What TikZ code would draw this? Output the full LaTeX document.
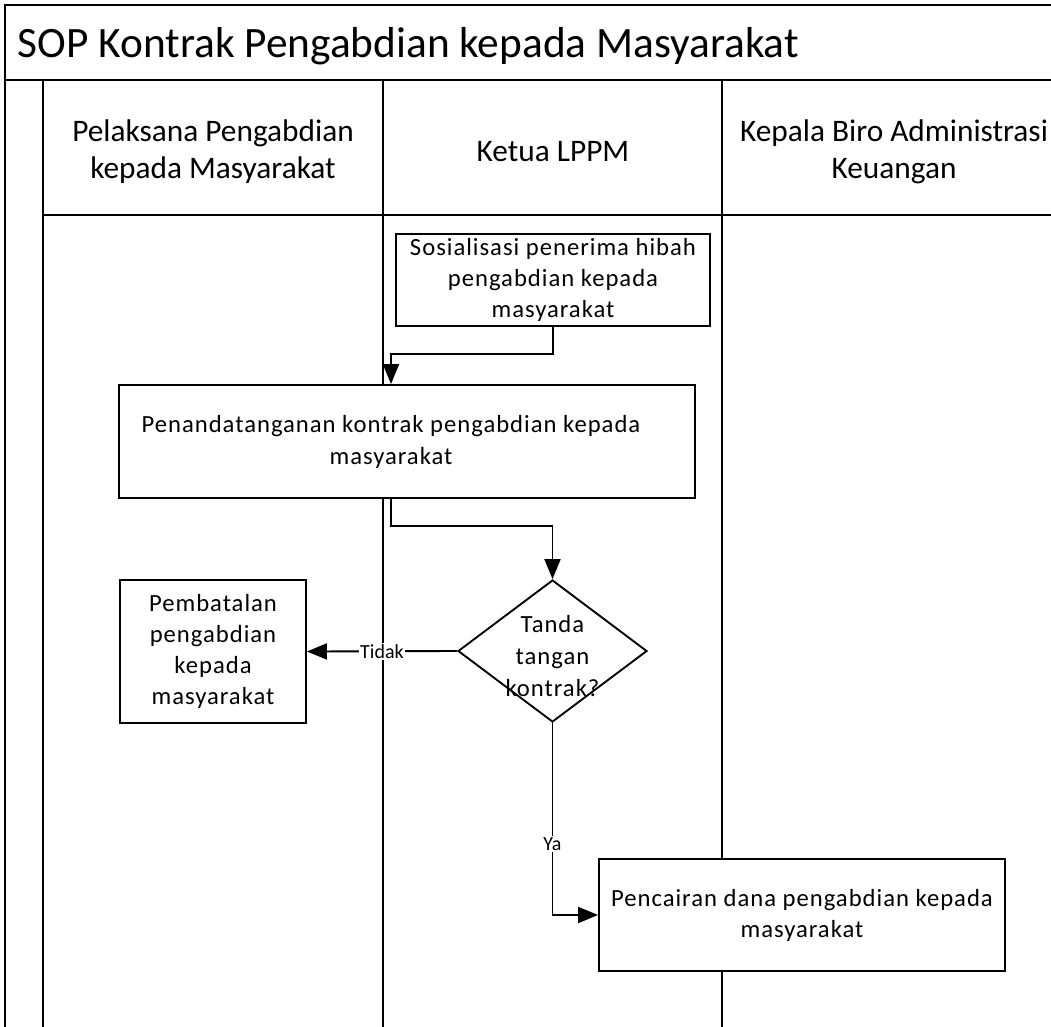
\documentclass[tikz,border=0pt]{standalone}
\usepackage{fontspec}
\setmainfont{Carlito}
\newfontfamily\boxfont[LetterSpace=4]{Carlito}
\usetikzlibrary{arrows.meta,shapes.geometric}

\begin{document}
\begin{tikzpicture}[%
        x = 0.75pt,
        y = -0.75pt,
        line width = 1.4pt,
        box/.style = {%
            draw,
            fill = white,
            rectangle,
            align = center,
            font = \boxfont\fontsize{18.5}{23.25}\selectfont,
        },
        inside/.style = {%
            align = center,
            font = \boxfont\fontsize{18.5}{24}\selectfont,
        },
        flow/.style = {%
            -{Triangle[length=15pt, width=12pt]},
        },
        lbl/.style = {%
            fill = white,
            inner sep = 1pt,
            font = \fontsize{15}{17}\selectfont,
        },
        lane/.style = {%
            align = center,
            font = \fontsize{23.5}{27.75}\selectfont,
        },
    ]

        % Page frame, title row and swim lanes.
        \clip (0,0) rectangle (1051,1026);
        \draw (5,5) rectangle (1060,80);
        \draw (5,80) -- (5,1030);
        \draw (43,80) -- (43,1030);
        \draw (383,80) -- (383,1030);
        \draw (722,80) -- (722,1030);
        \draw (43,215) -- (1060,215);
        \node[anchor = base west, inner sep = 0pt, font = \fontsize{32.5}{37}\selectfont] (title) at (17,57) {SOP Kontrak Pengabdian kepada Masyarakat};

        % Lane headings.
        \node[lane] (pelaksana) at (213,152) {Pelaksana Pengabdian\\kepada Masyarakat};
        \node[lane] (ketua) at (553,152) {Ketua LPPM};
        \node[lane] (biro) at (894,152) {Kepala Biro Administrasi\\Keuangan};

        % Steps of the procedure.
        \node[box, minimum width = 235.5pt, minimum height = 69pt] (sosialisasi) at (553,280) {Sosialisasi penerima hibah\\pengabdian kepada\\masyarakat};
        \node[box, minimum width = 432pt, minimum height = 84.75pt,
            label = {[inside, xshift = -12pt]center:{Penandatanganan kontrak pengabdian kepada\\masyarakat}}] (kontrak) at (407,441.5) {};
        \node[box, diamond, minimum width = 141.75pt, minimum height = 106.5pt, inner sep = 0pt,
            label = {[inside, yshift = -4pt]center:{Tanda\\tangan\\kontrak?}}] (cek) at (552.5,651) {};
        \node[box, minimum width = 139.5pt, minimum height = 107.25pt] (batal) at (213,651.5) {Pembatalan\\pengabdian\\kepada\\masyarakat};
        \node[box, minimum width = 304.5pt, minimum height = 84pt] (cair) at (802,915) {Pencairan dana pengabdian kepada\\masyarakat};

        % Connectors.
        \coordinate (turn) at (391,0);
        \draw[flow] (sosialisasi.south) -- ++(0,27) -| (turn |- kontrak.north);
        \draw[flow] (turn |- kontrak.south) -- ++(0,27) -| (cek.north);
        \draw[flow] (cek.west) -- node[lbl] {Tidak} (batal.east);
        \draw[flow] (cek.south) |- node[lbl, pos = 0.315] {Ya} (cair.west);
    \end{tikzpicture}
\end{document}
